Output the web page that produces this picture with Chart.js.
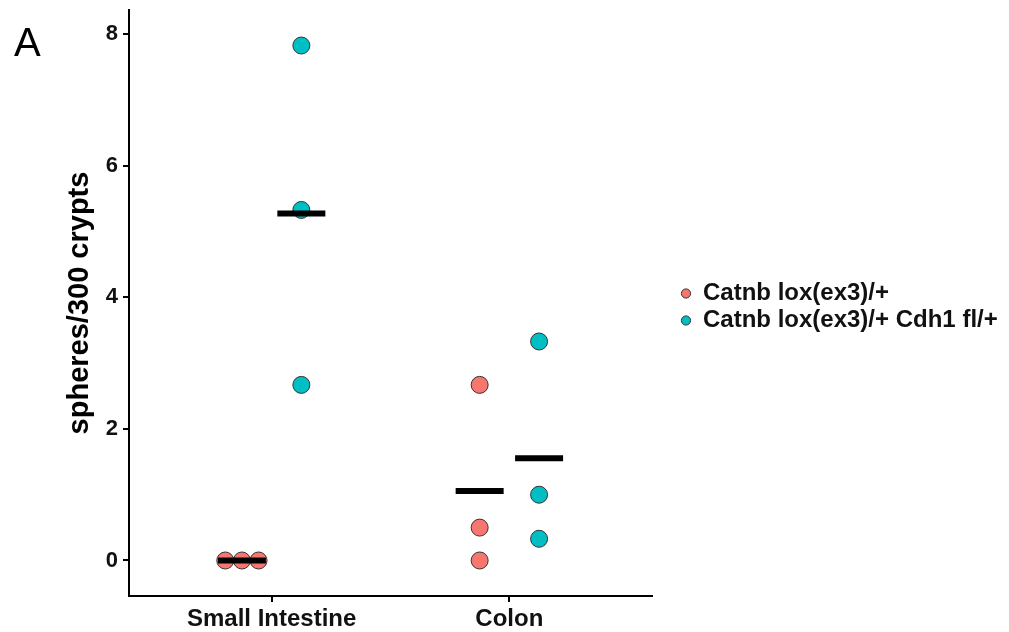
<!DOCTYPE html>
<html>
<head>
<meta charset="utf-8">
<script src="https://cdn.jsdelivr.net/npm/chart.js@4.4.0/dist/chart.umd.min.js"></script>
<style>
  body { margin: 0; background: #fff; }
  #wrap { position: relative; width: 1009px; height: 632px; }
  #panel { position: absolute; left: 14px; top: 20px; font: 40px "Liberation Sans", Arial, sans-serif; color: #000; }
</style>
</head>
<body>
<div id="wrap">
  <canvas id="sphereChart" width="1009" height="632"></canvas>
  <div id="panel">A</div>
</div>
<script>
// categories and groups
const categories = ["Small Intestine", "Colon"];
const groupNames = ["Catnb lox(ex3)/+", "Catnb lox(ex3)/+ Cdh1 fl/+"];
const groupColors = ["#F8766D", "#00BFC4"];

// spheres per 300 crypts, one value per mouse
const catnbSI = [0, 0, 0];
const catnbColon = [2.67, 0.5, 0];
const cdh1SI = [7.83, 5.33, 2.67];
const cdh1Colon = [3.33, 1.0, 0.33];

const yTicks = [0, 2, 4, 6, 8];

const groupValues = [
  [catnbSI, catnbColon],
  [cdh1SI, cdh1Colon],
];

const dodge = [-0.125, 0.125];
const tieStep = 0.07;

function mean(arr) {
  return arr.reduce((a, b) => a + b, 0) / arr.length;
}

// spread tied values side by side like the original
function pointsFor(g) {
  const pts = [];
  groupValues[g].forEach((vals, c) => {
    vals.forEach((v, i) => {
      const ties = vals.filter((w) => w === v);
      const k = vals.slice(0, i).filter((w) => w === v).length;
      const shift = (k - (ties.length - 1) / 2) * tieStep;
      pts.push({ x: c + 1 + dodge[g] + shift, y: v });
    });
  });
  return pts;
}

const meanPoints = [];
groupValues.forEach((cats, g) => {
  cats.forEach((vals, c) => {
    meanPoints.push({ x: c + 1 + dodge[g], y: mean(vals) });
  });
});

// legend sits to the right with a gap, like ggplot
const legendBox = {
  id: "legendBox",
  beforeLayout(chart) {
    const lg = chart.legend;
    if (lg && !lg._wide) {
      const fit = lg.fit;
      lg.fit = function () {
        fit.call(this);
        this.width = 357;
      };
      lg._wide = true;
    }
  },
  afterLayout(chart) {
    const lg = chart.legend;
    lg.left += 26;
    lg.right += 26;
    lg.top += 4;
    lg.bottom += 4;
  },
};

const ctx = document.getElementById("sphereChart").getContext("2d");
const sphereChart = new Chart(ctx, {
  type: "scatter",
  data: {
    datasets: [
      {
        label: groupNames[0],
        data: pointsFor(0),
        backgroundColor: groupColors[0],
        borderColor: "#333",
        borderWidth: 1,
        pointRadius: 8.5,
        order: 1,
      },
      {
        label: groupNames[1],
        data: pointsFor(1),
        backgroundColor: groupColors[1],
        borderColor: "#333",
        borderWidth: 1,
        pointRadius: 8.5,
        order: 1,
      },
      {
        label: "mean",
        data: meanPoints,
        pointStyle: "line",
        pointRadius: 24,
        borderColor: "#000",
        backgroundColor: "#000",
        borderWidth: 6,
        order: 0,
      },
    ],
  },
  options: {
    responsive: false,
    animation: false,
    events: [],
    layout: {
      autoPadding: false,
      padding: { top: 10, right: 0, bottom: 0, left: 0 },
    },
    plugins: {
      title: { display: false },
      tooltip: { enabled: false },
      legend: {
        display: true,
        position: "right",
        fullSize: false,
        align: "center",
        labels: {
          usePointStyle: true,
          boxWidth: 10,
          boxHeight: 6.5,
          padding: 3,
          color: "#111",
          font: { family: "'Liberation Sans', Arial, sans-serif", size: 24, weight: "bold" },
          filter: (item) => item.datasetIndex < 2,
        },
      },
    },
    scales: {
      x: {
        type: "linear",
        min: 0.4,
        max: 2.6,
        afterBuildTicks: (scale) => {
          scale.ticks = categories.map((c, i) => ({ value: i + 1 }));
        },
        afterFit: (scale) => {
          scale.height = 36;
        },
        ticks: {
          callback: (value) => categories[value - 1],
          color: "#111",
          padding: 3,
          maxRotation: 0,
          font: { family: "'Liberation Sans', Arial, sans-serif", size: 24, weight: "bold" },
        },
        grid: {
          drawOnChartArea: false,
          drawTicks: true,
          tickLength: 6,
          color: "#000",
          lineWidth: 2,
        },
        border: { display: true, color: "#000", width: 2 },
      },
      y: {
        min: -0.54,
        max: 8.37,
        afterBuildTicks: (scale) => {
          scale.ticks = yTicks.map((v) => ({ value: v }));
        },
        afterFit: (scale) => {
          scale.width = 129;
          scale.paddingTop = 0;
          scale.paddingBottom = 0;
        },
        ticks: {
          color: "#111",
          padding: 5,
          font: { family: "'Liberation Sans', Arial, sans-serif", size: 22, weight: "bold" },
        },
        title: {
          display: true,
          text: "spheres/300 crypts",
          color: "#000",
          padding: { top: 63, bottom: 0 },
          font: { family: "'Liberation Sans', Arial, sans-serif", size: 29, weight: "bold" },
        },
        grid: {
          drawOnChartArea: false,
          drawTicks: true,
          tickLength: 6,
          color: "#000",
          lineWidth: 2,
        },
        border: { display: true, color: "#000", width: 2 },
      },
    },
  },
  plugins: [legendBox],
});
</script>
</body>
</html>
